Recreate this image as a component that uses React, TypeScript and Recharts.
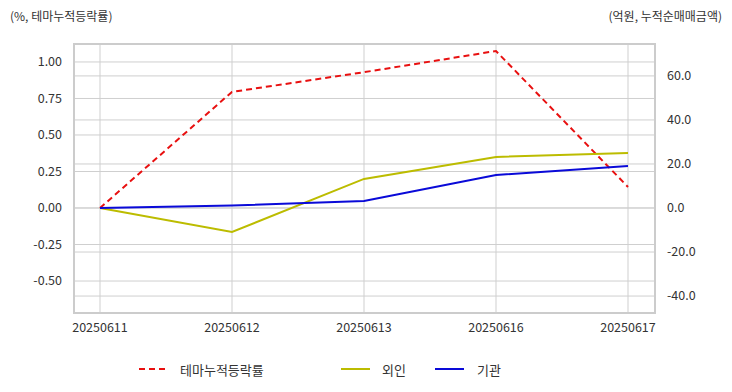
import React from "react";
import { LineChart, Line, XAxis, YAxis, CartesianGrid, ReferenceLine } from "recharts";

const dates = ["20250611", "20250612", "20250613", "20250616", "20250617"];
const themeRate = [0.0, 0.795, 0.93, 1.075, 0.144];
const foreign = [0.0, -10.9, 13.2, 23.2, 25.0];
const institution = [0.0, 1.1, 3.2, 15.0, 19.1];

const leftTicks = [-0.5, -0.25, 0, 0.25, 0.5, 0.75, 1.0];
const rightTicks = [-40, -20, 0, 20, 40, 60];

const data = dates.map((d, i) => ({
  date: d,
  theme: themeRate[i],
  foreign: foreign[i],
  inst: institution[i],
}));

const FONT = "'Noto Sans CJK KR', 'Noto Sans', sans-serif";
const TXT = "#333";
const GRID = "#cfcfcf";

export default function App() {
  return (
    <div style={{ position: "absolute", left: 0, top: 0, width: 732, height: 392, fontFamily: FONT, background: "#fff" }}>
      <div style={{ position: "absolute", left: 10, top: 7, fontSize: 12, color: TXT }}>(%, 테마누적등락률)</div>
      <div style={{ position: "absolute", right: 10, top: 7, fontSize: 12, color: TXT }}>(억원, 누적순매매금액)</div>
      <LineChart width={732} height={340} data={data} margin={{ top: 44, right: 0, bottom: 0, left: 0 }}>
        <CartesianGrid yAxisId="left" stroke={GRID} strokeWidth={1} />
        <XAxis
          dataKey="date"
          scale="point"
          padding={{ left: 26, right: 27 }}
          height={27}
          tickLine={false}
          axisLine={false}
          tick={{ fill: TXT, fontSize: 12.5, fontFamily: FONT }}
          tickMargin={4}
          interval={0}
        />
        <YAxis
          yAxisId="left"
          width={74}
          domain={[-0.719, 1.123]}
          ticks={leftTicks}
          tickFormatter={(v: number) => v.toFixed(2)}
          tickLine={false}
          axisLine={false}
          tick={{ fill: TXT, fontSize: 12.5, fontFamily: FONT }}
          tickMargin={6}
          allowDataOverflow
        />
        <YAxis
          yAxisId="right"
          orientation="right"
          width={77}
          domain={[-47.7, 74.5]}
          ticks={rightTicks}
          tickFormatter={(v: number) => v.toFixed(1)}
          tickLine={false}
          axisLine={false}
          tick={{ fill: TXT, fontSize: 12.5, fontFamily: FONT }}
          tickMargin={6}
          allowDataOverflow
        />
        {rightTicks.map((t) => (
          <ReferenceLine key={t} yAxisId="right" y={t} stroke={GRID} strokeWidth={1} />
        ))}
        <Line yAxisId="left" dataKey="theme" stroke="#e81010" strokeWidth={2} strokeDasharray="6 4" dot={false} isAnimationActive={false} />
        <Line yAxisId="right" dataKey="foreign" stroke="#bcbc00" strokeWidth={2} dot={false} isAnimationActive={false} />
        <Line yAxisId="right" dataKey="inst" stroke="#0a0ad8" strokeWidth={2} dot={false} isAnimationActive={false} />
      </LineChart>
      <div style={{ position: "absolute", left: 73, top: 43, width: 583, height: 271, boxSizing: "border-box", border: "2px solid #cccccc", pointerEvents: "none" }} />
      <div style={{ position: "absolute", top: 360, left: 0, width: 732, height: 20, fontSize: 13, color: TXT }}>
        <svg style={{ position: "absolute", left: 139, top: 4 }} width={30} height={10}>
          <line x1={0} y1={5} x2={29} y2={5} stroke="#e81010" strokeWidth={2} strokeDasharray="6 4" />
        </svg>
        <span style={{ position: "absolute", left: 180, top: 0 }}>테마누적등락률</span>
        <svg style={{ position: "absolute", left: 341, top: 4 }} width={30} height={10}>
          <line x1={0} y1={5} x2={29} y2={5} stroke="#bcbc00" strokeWidth={2} />
        </svg>
        <span style={{ position: "absolute", left: 382, top: 0 }}>외인</span>
        <svg style={{ position: "absolute", left: 435, top: 4 }} width={30} height={10}>
          <line x1={0} y1={5} x2={29} y2={5} stroke="#0a0ad8" strokeWidth={2} />
        </svg>
        <span style={{ position: "absolute", left: 477, top: 0 }}>기관</span>
      </div>
    </div>
  );
}
